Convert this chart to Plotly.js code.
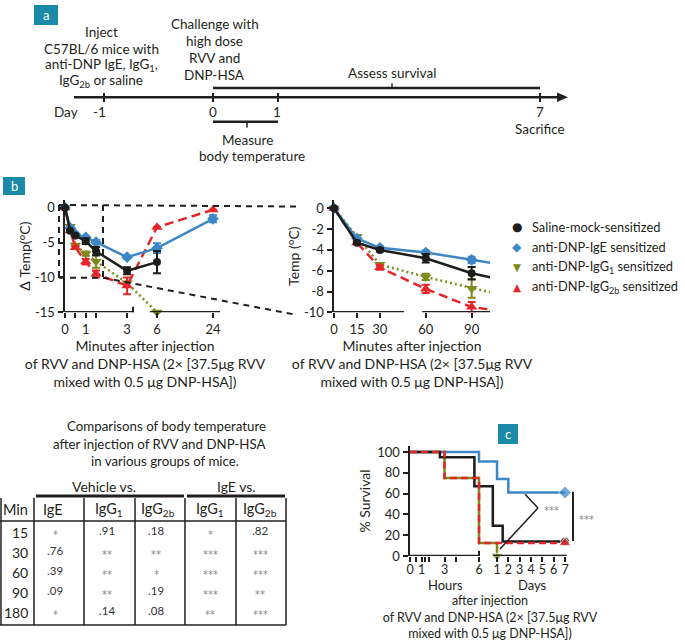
<!DOCTYPE html>
<html><head><meta charset="utf-8">
<script src="https://cdn.plot.ly/plotly-3.0.1.min.js"></script>
<style>html,body{margin:0;padding:0;background:#fff}</style>
</head><body><div id="chart" style="width:685px;height:644px"></div>
<script>
// ---------- Panel b: temperature change data ----------
const timeMin   = [0, 15, 30, 60, 90, 180, 360, 1440];
const salineTemp = [0, -3.3, -4.0, -4.8, -6.25, -9.05, -7.8, null];
const salineErr  = [0, 0.1, 0.15, 0.4, 0.6, 0.5, 1.6, 0];
const igeTemp    = [0, -2.9, -3.8, -4.25, -4.95, -7.1, -5.8, -1.6];
const igeErr     = [0, 0.1, 0.1, 0.2, 0.3, 0.2, 0.7, 0.5];
const igg1Temp   = [0, -2.7, -5.4, -6.6, -7.7, -10.8, -15, null];
const igg1Err    = [0, 0.1, 0.1, 0.3, 0.9, 0, 0, 0];
const igg2bTemp  = [0, -3.3, -5.7, -7.75, -9.5, -11.2, -2.8, -0.3];
const igg2bErr   = [0, 0.1, 0.2, 0.4, 0.5, 1.2, 0, 0];
const seriesNames = ['Saline-mock-sensitized', 'anti-DNP-IgE sensitized',
  'anti-DNP-IgG<sub>1</sub> sensitized', 'anti-DNP-IgG<sub>2b</sub> sensitized'];
const leftTickHours  = [0, 1, 3, 6, 24];
const leftMinorHours = [0.5, 1.5];
const leftYTicks     = [0, -5, -10, -15];
const leftYText      = ['0', '-5', '-10', '-15'];
const rightTickMin   = [0, 15, 30, 60, 90];
const rightYTicks    = [0, -2, -4, -6, -8, -10];
const rightYText     = ['0', '-2', '-4', '-6', '-8', '-10'];

// ---------- Panel c: survival data (time in hours) ----------
const survIgeT   = [0, 6, 24, 48, 168];
const survIgeS   = [100, 91, 74, 61, 61];
const survSalT   = [0, 2.6, 5.6, 19.8, 36, 168];
const survSalS   = [100, 95, 67, 29, 14, 14];
const survIgg1T  = [0, 3, 6, 24];
const survIgg1S  = [100, 75, 12.5, 0];
const survIgg2bT = [0, 3, 6, 168];
const survIgg2bS = [100, 75, 12.5, 12.5];
const survHourTicks = [0, 1, 3, 6];
const survHourMinor = [0.5, 1.33, 1.67, 4];
const survDayTicks  = [1, 2, 3, 4, 5, 6, 7];
const survYTicks    = [0, 20, 40, 60, 80, 100];

// ---------- Table ----------
const tableMin   = ['15', '30', '60', '90', '180'];
const vehIgE     = ['*', '.76', '.39', '.09', '*'];
const vehIgG1    = ['.91', '**', '**', '**', '.14'];
const vehIgG2b   = ['.18', '**', '*', '.19', '.08'];
const igeVsIgG1  = ['*', '***', '***', '***', '**'];
const igeVsIgG2b = ['.82', '***', '***', '**', '***'];
const tableHeads = ['Min', 'IgE', 'IgG<sub>1</sub>', 'IgG<sub>2b</sub>', 'IgG<sub>1</sub>', 'IgG<sub>2b</sub>'];

// ---------- styling ----------
const W = 685, H = 644;
const FONT = 'Lato, "DejaVu Sans", sans-serif';
const INK = '#231f20';
const C_BLACK = '#1d1d1b', C_BLUE = '#3d87c6', C_OLIVE = '#7e8a1d', C_RED = '#e4262b', TEAL = '#1a8aa6';
const px = x => x / W, py = y => 1 - y / H;

// broken-axis scales
const posB = m => { const h = m / 60; return h <= 3.4 ? h : 4.444 + (h - 6) * 0.1503; };
const posC = h => h <= 6 ? h : (h <= 24 ? 6 + (h - 6) / 18 * 1.565 : 7.565 + (h / 24 - 1) * 0.9855);

const shapes = [], ann = [];
function L(x0, y0, x1, y1, w, color, dash) {
  shapes.push({type: 'line', xref: 'paper', yref: 'paper', x0: px(x0), y0: py(y0), x1: px(x1), y1: py(y1),
    line: {color: color || INK, width: w || 2, dash: dash || 'solid'}});
}
function DL(xr, yr, x0, y0, x1, y1, w) {
  shapes.push({type: 'line', xref: xr, yref: yr, x0, y0, x1, y1, line: {color: INK, width: w || 2.5}});
}
function T(x, y, text, size, opts) {
  ann.push(Object.assign({xref: 'paper', yref: 'paper', x: px(x), y: py(y), text, showarrow: false,
    xanchor: 'center', yanchor: 'middle', font: {family: FONT, size: size || 13, color: INK}}, opts || {}));
}
function box(x0, y0, x1, y1, letter) {
  shapes.push({type: 'rect', xref: 'paper', yref: 'paper', x0: px(x0), y0: py(y1), x1: px(x1), y1: py(y0),
    fillcolor: TEAL, line: {width: 0}});
  T((x0 + x1) / 2, (y0 + y1) / 2, letter, 13, {font: {family: FONT, size: 13, color: '#fff'}});
}
const starFont = () => ({family: '"DejaVu Sans", sans-serif', size: 10, color: '#8a8a8a'});

// ---------- Panel a: timeline ----------
box(34, 5, 58, 25, 'a');
L(74, 97.3, 560, 97.3, 2.5);
shapes.push({type: 'path', xref: 'paper', yref: 'paper',
  path: `M ${px(557)} ${py(92.5)} L ${px(568)} ${py(97.3)} L ${px(557)} ${py(102)} Z`,
  fillcolor: INK, line: {width: 0}});
[104, 213, 278, 540].forEach(x => L(x, 93, x, 102, 2));
L(213, 88, 540, 88, 2.5); L(392, 88, 392, 83.5, 1.5);
L(213, 121.7, 278, 121.7, 2.5); L(247, 121.7, 247, 127.5, 1.5);
const FA = 13.5;
T(392, 72.7, 'Assess survival', FA);
T(247, 139.5, 'Measure', FA); T(252, 156, 'body temperature', FA);
T(66, 112, 'Day', FA); T(100, 112, '-1', FA); T(213, 112, '0', FA);
T(277, 112, '1', FA); T(540, 112, '7', FA); T(540, 128.5, 'Sacrifice', FA);
T(101, 32, 'Inject', FA); T(101, 48.5, 'C57BL/6 mice with', FA);
T(101, 65, 'anti-DNP IgE, IgG<sub>1</sub>,', FA); T(101, 81.5, 'IgG<sub>2b</sub> or saline', FA);
T(214.6, 24, 'Challenge with', FA); T(214.6, 40.7, 'high dose', FA);
T(214.6, 58, 'RVV and', FA); T(214.6, 75, 'DNP-HSA', FA);

// ---------- Panel b decorations ----------
box(3, 177, 25, 195, 'b');
const dsh = '6px,5px';
L(59, 205, 297, 206.5, 2, INK, dsh);
L(59, 205, 59, 277.7, 2, INK, dsh);
L(103, 205, 103, 277.7, 2, INK, dsh);
L(59, 277.7, 103, 277.7, 2, INK, dsh);
L(103, 277.7, 297, 315, 2, INK, dsh);
// broken x axis lines (data coordinates)
DL('x', 'y', posB(0), -15, 3.285, -15); DL('x', 'y', 3.285, -15.3, 3.285, -14.2, 2);
DL('x', 'y', 4.106, -15, 7.488, -15);
DL('x2', 'y2', 0, -10, 45.7, -10); DL('x2', 'y2', 57.7, -10, 102, -10);
// legend (symbol + label)
const legSym = [['●', C_BLACK, 12], ['◆', C_BLUE, 12], ['▼', C_OLIVE, 10.5], ['▲', C_RED, 10.5]];
const legY = [227, 247, 267, 287];
seriesNames.forEach((n, i) => {
  T(517, legY[i], legSym[i][0], legSym[i][2], {font: {family: '"DejaVu Sans", sans-serif', size: legSym[i][2], color: legSym[i][1]}});
  T(530, legY[i], n, 12.8, {xanchor: 'left'});
});

// ---------- Table ----------
const FT = 13.3;
T(166, 426, 'Comparisons of body temperature', FT);
T(159, 444, 'after injection of RVV and DNP-HSA', FT);
T(165, 461, 'in various groups of mice.', FT);
T(104, 486, 'Vehicle vs.', 14); T(236, 486, 'IgE vs.', 14);
L(36, 496, 184, 496, 3); L(187, 496, 285, 496, 3);
[1, 34, 84, 135, 185, 236, 286].forEach(x => L(x, 498, x, 625, 1.5));
L(0, 521, 286, 521, 1.5); L(0, 625, 286, 625, 1.5);
const headX = [16, 53, 109, 158, 210, 260];
tableHeads.forEach((h, i) => T(headX[i], 509, h, 14.5));
const rowY = [532, 552, 572, 592, 612];
const colX = [55, 107, 156, 210, 260];
const cols = [vehIgE, vehIgG1, vehIgG2b, igeVsIgG1, igeVsIgG2b];
tableMin.forEach((m, r) => T(30, rowY[r], m, 14, {xanchor: 'right'}));
cols.forEach((col, c) => col.forEach((v, r) => {
  const star = v.indexOf('*') >= 0;
  T(colX[c], rowY[r] + (star ? 2 : -2), v, star ? 10 : 11.5,
    {font: star ? starFont() : {family: FONT, size: 11.5, color: '#333'}});
}));

// ---------- Panel c decorations ----------
box(498, 424, 518, 444, 'c');
DL('x3', 'y3', 0, 0, 6, 0); DL('x3', 'y3', 6, -1, 6, 5, 2);
DL('x3', 'y3', posC(24) - 0.35, 0, posC(168) + 0.15, 0);
T(445, 585, 'Hours', 13); T(532, 585, 'Days', 13);
L(525, 494.3, 538, 508, 1.5); L(538, 508, 500, 549, 1.5);
T(551, 510, '***', 10, {font: starFont()});
L(573, 491.7, 573, 541, 2);
T(586, 519, '***', 10, {font: starFont()});

// ---------- traces ----------
const errStyle = (arr, color) => ({type: 'data', array: arr, visible: true, color, thickness: 2, width: 4});
function bTraces(xa, ya, xfun) {
  const xs = timeMin.map(xfun);
  const mk = (y, err, color, symbol, dash, size, name) => ({
    type: 'scatter', mode: 'lines+markers', x: xs, y, xaxis: xa, yaxis: ya, name, showlegend: false,
    line: {color, width: 2.5, dash}, marker: {color, symbol, size},
    error_y: errStyle(err, color), cliponaxis: false
  });
  return [
    mk(igg1Temp, igg1Err, C_OLIVE, 'triangle-down', '2px,3px', 10, seriesNames[2]),
    mk(igg2bTemp, igg2bErr, C_RED, 'triangle-up', '9px,5px', 10, seriesNames[3]),
    mk(igeTemp, igeErr, C_BLUE, 'diamond', 'solid', 9, seriesNames[1]),
    mk(salineTemp, salineErr, C_BLACK, 'circle', 'solid', 8, seriesNames[0])
  ];
}
const traces = [];
traces.push(...bTraces('x', 'y', posB));
traces.push(...bTraces('x2', 'y2', m => m));
// survival
function surv(t, s, color, symbol, dash, size, name) {
  return {type: 'scatter', mode: 'lines+markers', x: t.map(posC), y: s, xaxis: 'x3', yaxis: 'y3', name,
    showlegend: false, line: {color, width: 2.5, dash, shape: 'hv'},
    marker: {color, symbol, size: s.map((_, i) => i === s.length - 1 ? size : 0)}, cliponaxis: false};
}
traces.push(surv(survIgg1T, survIgg1S, C_OLIVE, 'triangle-down', 'solid', 11, seriesNames[2]));
traces.push(surv(survIgeT, survIgeS, C_BLUE, 'diamond', 'solid', 10, seriesNames[1]));
traces.push(surv(survSalT, survSalS, C_BLACK, 'circle', 'solid', 9, seriesNames[0]));
traces.push(surv(survIgg2bT, survIgg2bS, C_RED, 'triangle-up', '7px,4px', 11, seriesNames[3]));

const axBase = {showgrid: false, zeroline: false, ticks: 'outside', ticklen: 5, tickwidth: 2, tickcolor: INK,
  tickfont: {family: FONT, size: 13, color: INK}, linecolor: INK, linewidth: 2.5, fixedrange: true};
const minorOf = vals => ({tickvals: vals, ticks: 'outside', ticklen: 5, tickwidth: 2, tickcolor: INK, showgrid: false});
const capB = 'Minutes after injection<br>of RVV and DNP-HSA (2× [37.5μg RVV<br>mixed with 0.5 μg DNP-HSA])';
const FB = 14;

const layout = {
  width: W, height: H, margin: {l: 0, r: 0, t: 0, b: 0}, paper_bgcolor: '#fff', plot_bgcolor: 'rgba(0,0,0,0)',
  font: {family: FONT, size: 13, color: INK}, showlegend: false,
  xaxis: Object.assign({}, axBase, {domain: [px(65), px(225)], range: [0, 7.73], anchor: 'y', showline: false,
    tickmode: 'array', tickvals: leftTickHours.map(h => posB(h * 60)), ticktext: leftTickHours.map(String),
    minor: minorOf(leftMinorHours.map(h => posB(h * 60))),
    title: {text: capB, font: {family: FONT, size: FB, color: INK}, standoff: 1}}),
  yaxis: Object.assign({}, axBase, {domain: [py(312.3), py(200)], range: [-15, 1.1], anchor: 'x', showline: true,
    tickmode: 'array', tickvals: leftYTicks, ticktext: leftYText,
    title: {text: 'Δ Temp(°C)', font: {family: FONT, size: 14, color: INK}, standoff: 1}}),
  xaxis2: Object.assign({}, axBase, {domain: [px(334), px(490)], range: [0, 102], anchor: 'y2', showline: false,
    tickmode: 'array', tickvals: rightTickMin, ticktext: rightTickMin.map(String),
    title: {text: capB, font: {family: FONT, size: FB, color: INK}, standoff: 1}}),
  yaxis2: Object.assign({}, axBase, {domain: [py(312.3), py(200)], range: [-10, 0.8], anchor: 'x2', showline: true,
    tickmode: 'array', tickvals: rightYTicks, ticktext: rightYText,
    title: {text: 'Temp (°C)', font: {family: FONT, size: 14, color: INK}, standoff: 1}}),
  xaxis3: Object.assign({}, axBase, {domain: [px(410), px(570)], range: [0, 13.91], anchor: 'y3', showline: false,
    tickmode: 'array', tickvals: survHourTicks.concat(survDayTicks.map(d => posC(d * 24))),
    ticktext: survHourTicks.map(String).concat(survDayTicks.map(String)),
    tickfont: {family: FONT, size: 12.5, color: INK}, ticklabelstandoff: -3,
    minor: minorOf(survHourMinor),
    title: {text: 'after injection<br>of RVV and DNP-HSA (2× [37.5μg RVV<br>mixed with 0.5 μg DNP-HSA])',
      font: {family: FONT, size: 12.5, color: INK}, standoff: 20}}),
  yaxis3: Object.assign({}, axBase, {domain: [py(556), py(446)], range: [0, 105.8], anchor: 'x3', showline: true,
    tickmode: 'array', tickvals: survYTicks, ticktext: survYTicks.map(String),
    title: {text: '% Survival', font: {family: FONT, size: 14, color: INK}, standoff: 4}}),
  shapes, annotations: ann
};
Plotly.newPlot('chart', traces, layout, {displayModeBar: false, staticPlot: true});
</script></body></html>
